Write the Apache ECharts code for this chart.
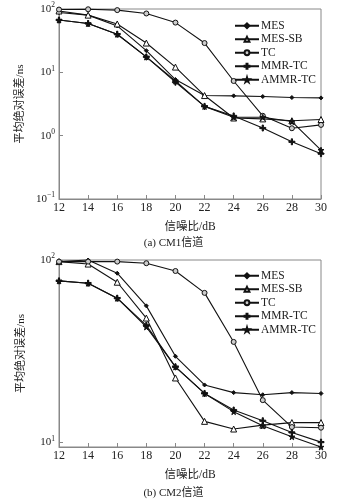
<!DOCTYPE html>
<html>
<head>
<meta charset="utf-8">
<script src="https://cdn.jsdelivr.net/npm/echarts@6/dist/echarts.min.js"></script>
<style>
  html, body { margin: 0; padding: 0; background: #fff; }
  #chart { width: 347px; height: 502px; }
</style>
</head>
<body>
<div id="chart"></div>
<script>
// 信噪比 (dB)
var snr = [12, 14, 16, 18, 20, 22, 24, 26, 28, 30];
var names = ['MES', 'MES-SB', 'TC', 'MMR-TC', 'AMMR-TC'];

// (a) CM1信道
var cm1Mes    = [88, 80, 54, 22, 7.7, 4.3, 4.25, 4.15, 4.0, 3.95];
var cm1MesSb  = [93, 80, 58, 29, 12.1, 4.3, 1.9, 1.84, 1.72, 1.8];
var cm1Tc     = [98, 99, 96, 85, 61, 29, 7.3, 2.06, 1.31, 1.48];
var cm1Mmr    = [67, 59, 40, 17.5, 7.0, 2.9, 2.05, 1.32, 0.8, 0.52];
var cm1Ammr   = [67, 59, 40, 17.5, 7.3, 2.9, 1.95, 1.95, 1.67, 0.59];

// (b) CM2信道
var cm2Mes    = [98, 100, 84.6, 56, 29.6, 20.6, 18.7, 18.2, 18.7, 18.5];
var cm2MesSb  = [98, 95, 75.5, 48, 22.5, 13.0, 11.8, 12.4, 12.8, 12.8];
var cm2Tc     = [98, 98, 98, 96, 87, 66, 35.5, 17.0, 12.1, 12.0];
var cm2Mmr    = [76.8, 74.6, 61.7, 43.8, 25.9, 18.5, 15.0, 13.1, 11.3, 10.0];
var cm2Ammr   = [76.8, 74.6, 61.7, 42.9, 25.9, 18.5, 14.7, 12.3, 10.7, 9.4];

var chart = echarts.init(document.getElementById('chart'));
var FONT = '"Liberation Serif", "Noto Sans CJK SC", serif';
var plusPath = 'path://M4,0h2v4h4v2h-4v4h-2v-4h-4v-2h4z';
var starPath = 'path://M50,0L61,35L98,35L68,57L79,91L50,70L21,91L32,57L2,35L39,35Z';

var markers = [
  { symbol: 'diamond', symbolSize: 4, fill: '#111' },
  { symbol: 'triangle', symbolSize: 6, fill: '#fff' },
  { symbol: 'circle', symbolSize: 5, fill: '#ccc' },
  { symbol: plusPath, symbolSize: 6, fill: '#111' },
  { symbol: starPath, symbolSize: 6, fill: '#111' }
];

function pairs(ys) {
  return snr.map(function (x, i) { return [x, ys[i]]; });
}

function makeSeries(list, idx) {
  return list.map(function (ys, k) {
    return {
      name: names[k],
      type: 'line',
      xAxisIndex: idx,
      yAxisIndex: idx,
      data: pairs(ys),
      symbol: markers[k].symbol,
      symbolSize: markers[k].symbolSize,
      showAllSymbol: true,
      clip: false,
      lineStyle: { color: '#111', width: 1.1 },
      itemStyle: { color: markers[k].fill, borderColor: '#111', borderWidth: 1 }
    };
  });
}

function powLabel(v) {
  var e = Math.log10(v);
  if (Math.abs(e - Math.round(e)) > 1e-6) return '';
  e = Math.round(e);
  return '10{s|' + (e < 0 ? '\u22121' : e) + '}';
}

function xAxis(idx) {
  return {
    type: 'value', gridIndex: idx, min: 12, max: 30, interval: 2,
    name: '信噪比/dB', nameLocation: 'middle', nameGap: 22,
    nameTextStyle: { color: '#222', fontSize: 11.5, fontFamily: FONT },
    axisLine: { lineStyle: { color: '#888' } },
    axisTick: { inside: true, length: 4, lineStyle: { color: '#888' } },
    axisLabel: { color: '#222', fontSize: 12, fontFamily: FONT, margin: 3 },
    splitLine: { show: false }
  };
}

function yAxis(idx, min, max) {
  return {
    type: 'log', logBase: 10, gridIndex: idx, min: min, max: max,
    name: '平均绝对误差/ns', nameLocation: 'middle', nameGap: 32, nameRotate: 90,
    nameTextStyle: { color: '#222', fontSize: 11, fontFamily: FONT },
    axisLine: { lineStyle: { color: '#888' } },
    axisTick: { inside: true, length: 4, lineStyle: { color: '#888' } },
    minorTick: { show: false },
    axisLabel: {
      color: '#222', fontSize: 11, fontFamily: FONT, margin: 4,
      formatter: powLabel,
      rich: { s: { fontSize: 7.5, fontFamily: FONT, color: '#222', verticalAlign: 'top', padding: [0, 0, 7, 0] } }
    },
    splitLine: { show: false }
  };
}

function legend(top) {
  return {
    data: names, orient: 'vertical', left: 229, top: top,
    itemWidth: 24, itemHeight: 6, itemGap: 2,
    textStyle: { color: '#222', fontSize: 11.5, fontFamily: FONT, padding: [0, 0, 0, -3], lineHeight: 10 }
  };
}

var option = {
  backgroundColor: '#fff',
  animation: false,
  title: [
    { text: '(a) CM1信道', left: 'center', top: 233, textStyle: { color: '#222', fontSize: 11, fontWeight: 'normal', fontFamily: FONT } },
    { text: '(b) CM2信道', left: 'center', top: 483, textStyle: { color: '#222', fontSize: 11, fontWeight: 'normal', fontFamily: FONT } }
  ],
  legend: [legend(15), legend(265)],
  grid: [
    { left: 59, top: 9, width: 262, height: 190, show: true, borderColor: '#888', borderWidth: 1 },
    { left: 59, top: 260, width: 262, height: 187, show: true, borderColor: '#888', borderWidth: 1 }
  ],
  xAxis: [xAxis(0), xAxis(1)],
  yAxis: [yAxis(0, 0.1, 100), yAxis(1, 9.4, 100)],
  series: makeSeries([cm1Mes, cm1MesSb, cm1Tc, cm1Mmr, cm1Ammr], 0)
    .concat(makeSeries([cm2Mes, cm2MesSb, cm2Tc, cm2Mmr, cm2Ammr], 1))
};

chart.setOption(option);
</script>
</body>
</html>
